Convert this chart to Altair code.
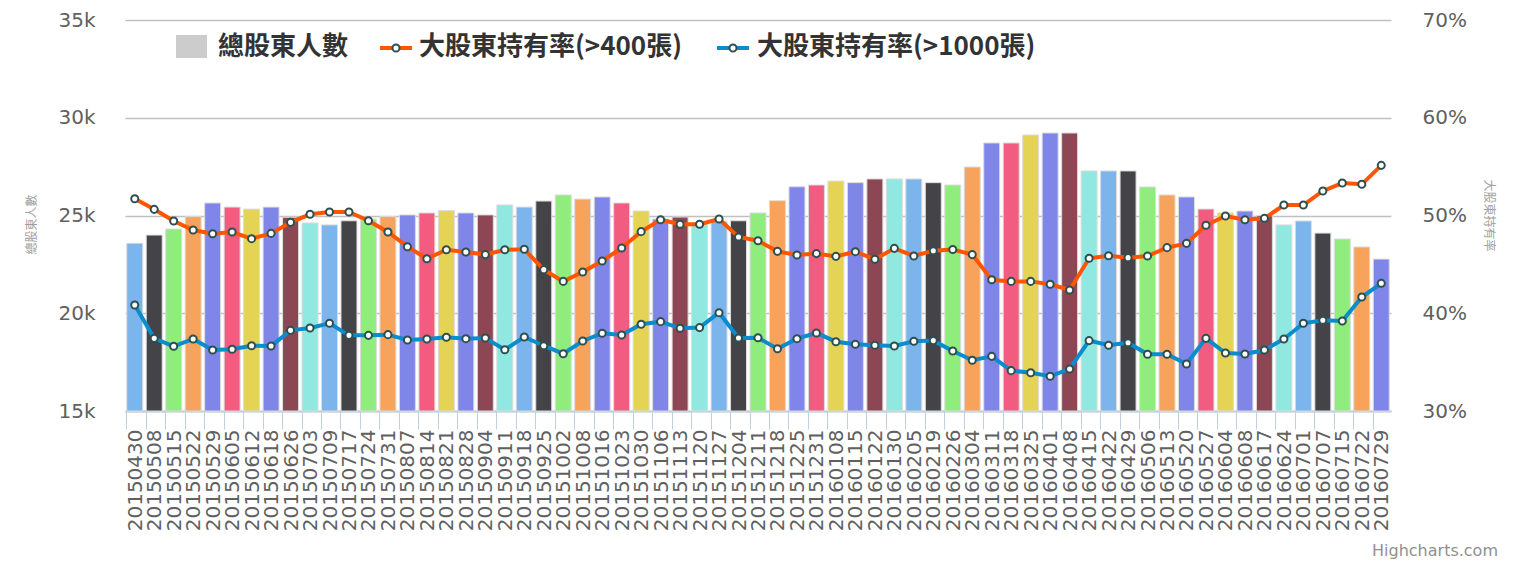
import altair as alt
import pandas as pd

dates = [
    "20150430", "20150508", "20150515", "20150522", "20150529", "20150605", "20150612",
    "20150618", "20150626", "20150703", "20150709", "20150717", "20150724", "20150731",
    "20150807", "20150814", "20150821", "20150828", "20150904", "20150911", "20150918",
    "20150925", "20151002", "20151008", "20151016", "20151023", "20151030", "20151106",
    "20151113", "20151120", "20151127", "20151204", "20151211", "20151218", "20151225",
    "20151231", "20160108", "20160115", "20160122", "20160130", "20160205", "20160219",
    "20160226", "20160304", "20160311", "20160318", "20160325", "20160401", "20160408",
    "20160415", "20160422", "20160429", "20160506", "20160513", "20160520", "20160527",
    "20160604", "20160608", "20160617", "20160624", "20160701", "20160707", "20160715",
    "20160722", "20160729",
]

total_holders = [
    23580, 24000, 24310, 24940, 25640, 25430, 25330, 25430, 24910, 24620,
    24520, 24730, 24820, 24940, 25030, 25130, 25250, 25130, 25030, 25540,
    25430, 25740, 26050, 25840, 25950, 25640, 25230, 24820, 24920, 24600,
    24700, 24730, 25130, 25760, 26470, 26560, 26760, 26680, 26870, 26870,
    26870, 26680, 26560, 27480, 28710, 28710, 29120, 29220, 29220, 27280,
    27280, 27280, 26460, 26050, 25950, 25330, 25130, 25230, 24990, 24520,
    24720, 24100, 23800, 23390, 22770,
]

pct_400 = [
    51.72, 50.63, 49.44, 48.52, 48.14, 48.31, 47.63, 48.17, 49.30, 50.12,
    50.36, 50.36, 49.47, 48.31, 46.81, 45.58, 46.50, 46.27, 46.00, 46.50,
    46.55, 44.46, 43.26, 44.22, 45.35, 46.68, 48.35, 49.57, 49.10, 49.10,
    49.64, 47.80, 47.42, 46.33, 45.96, 46.10, 45.82, 46.30, 45.52, 46.64,
    45.86, 46.40, 46.52, 46.00, 43.43, 43.26, 43.26, 42.96, 42.38, 45.62,
    45.89, 45.69, 45.86, 46.71, 47.15, 49.00, 49.95, 49.57, 49.71, 51.07,
    51.07, 52.51, 53.32, 53.19, 55.13,
]

pct_1000 = [
    40.84, 37.43, 36.62, 37.37, 36.24, 36.31, 36.68, 36.65, 38.25, 38.49,
    38.97, 37.74, 37.74, 37.81, 37.26, 37.37, 37.54, 37.40, 37.47, 36.27,
    37.57, 36.68, 35.86, 37.16, 37.95, 37.78, 38.87, 39.14, 38.46, 38.53,
    40.06, 37.47, 37.50, 36.37, 37.40, 37.98, 37.09, 36.82, 36.72, 36.65,
    37.13, 37.20, 36.14, 35.19, 35.59, 34.13, 33.92, 33.55, 34.30, 37.20,
    36.72, 36.99, 35.80, 35.80, 34.81, 37.43, 35.93, 35.83, 36.24, 37.37,
    38.97, 39.28, 39.21, 41.66, 43.06,
]

left_ticks = [15000, 20000, 25000, 30000, 35000]
right_ticks = [30, 40, 50, 60, 70]

palette = ["#7cb5ec", "#434348", "#90ed7d", "#f7a35c", "#8085e9",
           "#f15c80", "#e4d354", "#8085e8", "#8d4653", "#91e8e1"]
ORANGE = "#ff5500"
BLUE = "#0a8ccd"
MARKER_STROKE = "#2f4f4f"
CJK = "Noto Sans CJK TC"
LATIN = "DejaVu Sans"

df = pd.DataFrame({"date": dates, "total": total_holders, "p400": pct_400, "p1000": pct_1000})
df["color"] = [palette[i % len(palette)] for i in range(len(dates))]
df["base"] = left_ticks[0]

X = alt.X(
    "date:N", sort=dates,
    scale=alt.Scale(paddingInner=0.18, paddingOuter=0.09),
    axis=alt.Axis(
        title=None, labelAngle=-90, labelFontSize=20, labelColor="#606060", labelFont=LATIN,
        labelPadding=0, labelOverlap=False, tickSize=18, tickColor="#C0D0E0", tickWidth=1,
        domainColor="#C0D0E0", domainWidth=2, bandPosition=0, labelOffset=1, grid=False,
    ),
)

bars = alt.Chart(df).mark_bar(stroke="#dcdcdc", strokeWidth=1).encode(
    x=X,
    y=alt.Y(
        "total:Q",
        scale=alt.Scale(domain=[15000, 35000], nice=False, zero=False),
        axis=alt.Axis(
            values=left_ticks, format="~s", labelFontSize=20, labelColor="#606060",
            labelFont=LATIN, labelPadding=30, ticks=False, domain=False, grid=True,
            gridColor="#C0C0C0", gridWidth=1.5,
            title="總股東人數", titleFontSize=12, titleColor="#a0a0a0", titleFontWeight="normal",
            titleFont=CJK, titleX=-94, titleY=204, titleAngle=-90, titleAlign="center",
            titleBaseline="middle",
        ),
    ),
    y2="base:Q",
    color=alt.Color("color:N", scale=None),
)

Y2 = alt.Y(
    "value:Q",
    scale=alt.Scale(domain=[30, 70], nice=False, zero=False),
    axis=alt.Axis(
        orient="right", values=right_ticks, labelExpr="datum.value + '%'", labelFontSize=20,
        labelColor="#606060", labelFont=LATIN, labelPadding=31, labelAlign="left",
        ticks=False, domain=False, grid=False,
        title="大股東持有率", titleFontSize=12, titleColor="#a0a0a0", titleFontWeight="normal",
        titleFont=CJK, titleX=97, titleY=195, titleAngle=90, titleAlign="center",
        titleBaseline="middle",
    ),
)

folded = alt.Chart(df).transform_fold(["p400", "p1000"], as_=["series", "value"])


def series_layers(key, col):
    base = folded.transform_filter(alt.datum.series == key)
    ln = base.mark_line(color=col, strokeWidth=4).encode(x=X, y=Y2)
    pt = base.mark_circle(fill="white", stroke=MARKER_STROKE, strokeWidth=2, size=50,
                          opacity=1).encode(x=X, y=Y2)
    return [ln, pt]


lines = alt.layer(*series_layers("p1000", BLUE), *series_layers("p400", ORANGE))

leg = pd.DataFrame({"k": [0]})
legend_square = alt.Chart(leg).mark_rect(color="#cccccc").encode(
    x=alt.value(51), x2=alt.value(82), y=alt.value(15), y2=alt.value(38))


def legend_text(xpos, label):
    return alt.Chart(leg).mark_text(
        align="left", baseline="middle", fontSize=26, fontWeight="bold", font=CJK,
        color="#333333").encode(x=alt.value(xpos), y=alt.value(27), text=alt.value(label))


def legend_symbol(x0, col):
    seg = alt.Chart(leg).mark_rule(color=col, strokeWidth=4).encode(
        x=alt.value(x0), x2=alt.value(x0 + 32), y=alt.value(28))
    dot = alt.Chart(leg).mark_circle(fill="white", stroke=MARKER_STROKE, strokeWidth=2,
                                     size=50, opacity=1).encode(
        x=alt.value(x0 + 16), y=alt.value(28))
    return [seg, dot]


legend_layers = [
    legend_square,
    legend_text(93, "總股東人數"),
    *legend_symbol(255, ORANGE),
    legend_text(294, "大股東持有率(>400張)"),
    *legend_symbol(592, BLUE),
    legend_text(632, "大股東持有率(>1000張)"),
]

credit = alt.Chart(leg).mark_text(
    align="right", baseline="middle", fontSize=16, color="#909090", font=LATIN
).encode(x=alt.value(1373), y=alt.value(531), text=alt.value("Highcharts.com"))

chart = alt.layer(bars, lines, *legend_layers, credit).resolve_scale(
    y="independent"
).properties(
    width=1266, height=391,
    padding={"left": 117, "top": 12, "right": 113, "bottom": 151},
    autosize=alt.AutoSizeParams(type="none"),
    background="white",
).configure_view(stroke=None)

chart.save("out.html", embed_options={"renderer": "svg", "actions": False})
